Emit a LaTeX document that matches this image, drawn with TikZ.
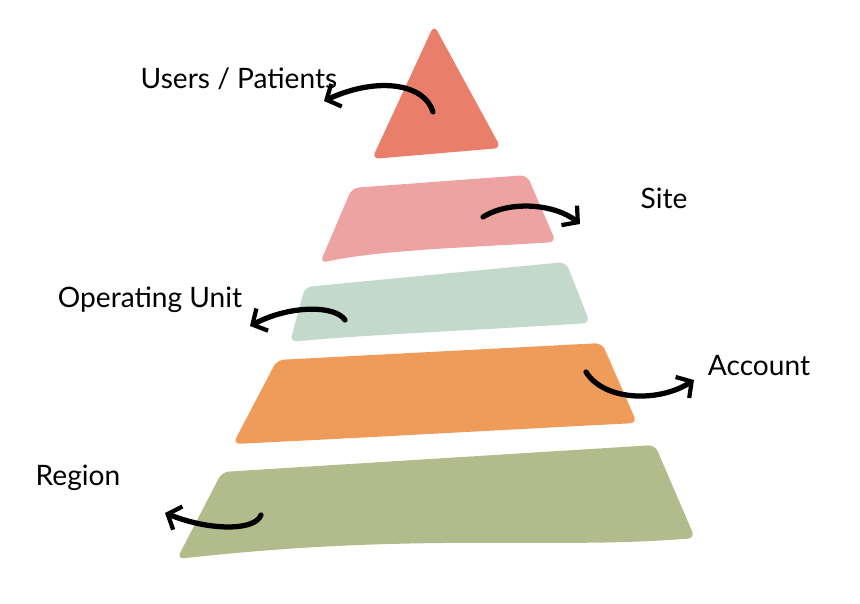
\documentclass[tikz,border=0pt]{standalone}
\usepackage{fontspec}
\setmainfont{Lato}
\usepackage{tikz}
\usetikzlibrary{arrows.meta,positioning}
\definecolor{tipred}{HTML}{E97E6A}
\definecolor{sitepink}{HTML}{EDA3A1}
\definecolor{unitgreen}{HTML}{C3D9CC}
\definecolor{accorange}{HTML}{EF9C5B}
\definecolor{regolive}{HTML}{B2BB8B}

\begin{document}
\begin{tikzpicture}[
    x=0.02cm, y=-0.02cm,
    font=\fontsize{16}{18}\selectfont,
    layer/.style={
        draw=none,
        rounded corners=4pt
    },
    lbl/.style={
        text=black,
        inner sep=1pt
    },
    hand/.style={
        -{Straight Barb[length=2.2mm,width=5mm,line width=2.4pt]},
        line width=3pt,
        line cap=round,
        black
    }
]
\useasboundingbox (0,0) rectangle (860,604);

% === LAYERS (top to bottom) ===

% Users / Patients
\fill[layer, tipred] (434,25) -- (501,148) -- (372,159) -- cycle;

% Site
\fill[layer, sitepink] (352,188) -- (527,175) -- (556,242)
    .. controls (460,248) and (380,250) .. (320,263) -- cycle;

% Operating Unit
\fill[layer, unitgreen] (305,287) -- (566,262) -- (590,323)
    .. controls (480,330) and (360,335) .. (290,342) -- cycle;

% Account
\fill[layer, accorange] (277,360) -- (602,343) -- (637,423)
    .. controls (500,430) and (360,438) .. (233,444) -- cycle;

% Region
\fill[layer, regolive] (222,472) -- (655,445) -- (695,538)
    .. controls (550,550) and (420,532) .. (177,559) -- cycle;

% === LABELS ===
\node[lbl] (users) at (239,79) {Users / Patients};
\node[lbl] (site) at (664,198) {Site};
\node[lbl] (unit) at (150,300) {Operating Unit};
\node[lbl] (account) at (759,366) {Account};
\node[lbl] (region) at (78,478) {Region};

% === ARROW ENDS ===
\coordinate (users-s) at (433,112);
\coordinate (users-e) at (324,101);
\coordinate (site-s) at (483,217);
\coordinate (site-e) at (580,224);
\coordinate (unit-s) at (345,320);
\coordinate (unit-e) at (250,326);
\coordinate (account-s) at (586,372);
\coordinate (account-e) at (694,380);
\coordinate (region-s) at (261,515);
\coordinate (region-e) at (165,513);

% === ARROWS ===
\draw[hand] (users-s) .. controls (425,84) and (378,76) .. (users-e);
\draw[hand] (site-s) .. controls (510,200) and (555,204) .. (site-e);
\draw[hand] (unit-s) .. controls (335,305) and (290,305) .. (unit-e);
\draw[hand] (account-s) .. controls (605,402) and (660,402) .. (account-e);
\draw[hand] (region-s) .. controls (255,531) and (210,531) .. (region-e);

\end{tikzpicture}
\end{document}
